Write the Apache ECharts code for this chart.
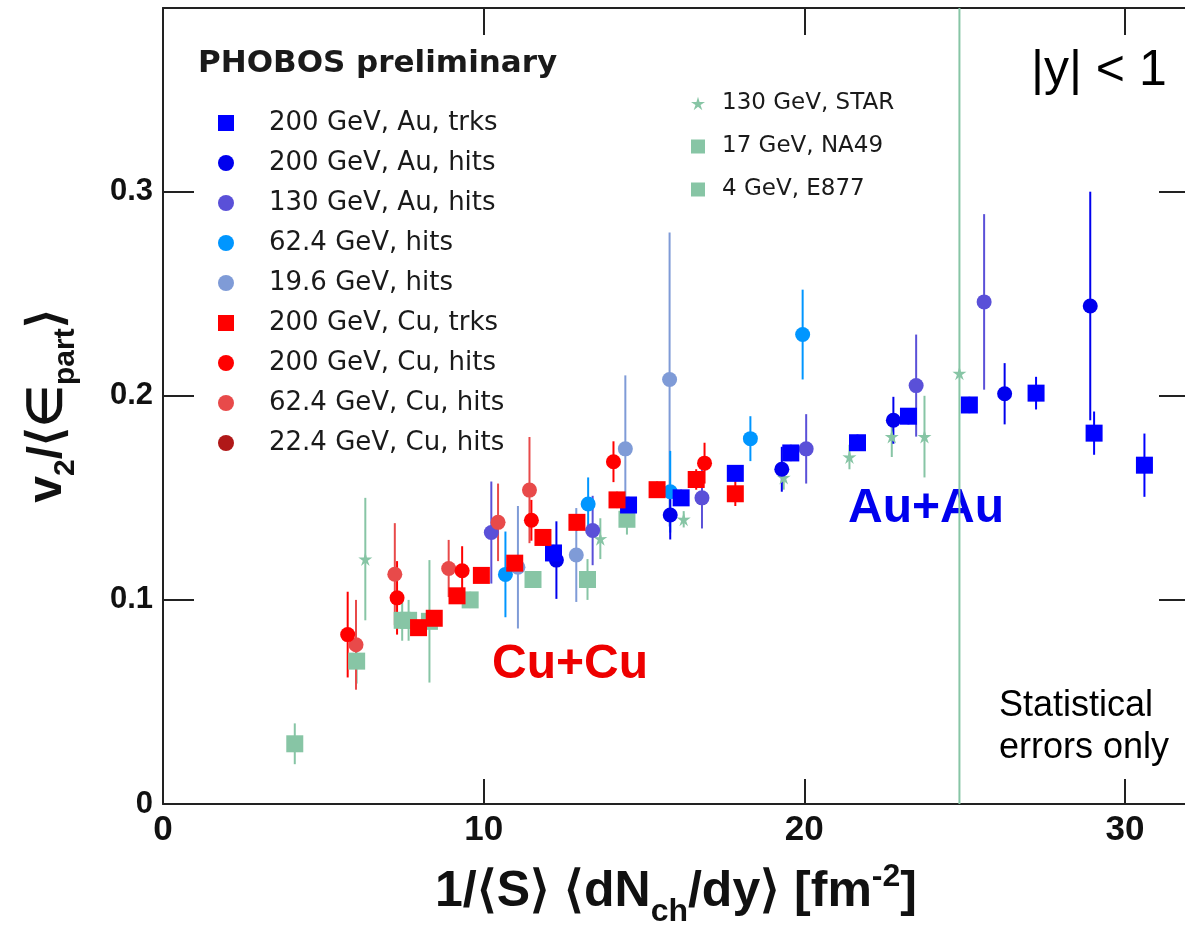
<!DOCTYPE html>
<html><head><meta charset="utf-8">
<script src="https://cdn.jsdelivr.net/npm/echarts@6/dist/echarts.min.js"></script>
<style>html,body{margin:0;padding:0;background:#fff}#c{width:1185px;height:934px}</style>
</head><body><div id="c"></div>
<script>
// tick values
const xTicks = [0, 10, 20, 30];
const yTicks = [0, 0.1, 0.2, 0.3];
// each point: [x, y, statistical error]
const auTrks200 = [[12.18,0.123,0.004],[14.52,0.1465,0.004],[16.16,0.150,0.004],[17.85,0.162,0.004],[19.58,0.172,0.004],[21.66,0.177,0.004],[23.25,0.190,0.004],[25.15,0.1955,0.004],[27.23,0.2013,0.008],[29.04,0.1817,0.0106],[30.61,0.166,0.0155]];
const auHits200 = [[12.27,0.1195,0.019],[15.82,0.1416,0.012],[19.30,0.164,0.011],[22.78,0.188,0.0115],[26.25,0.201,0.015],[28.92,0.244,0.056]];
const auHits130 = [[10.24,0.133,0.025],[13.40,0.134,0.017],[16.81,0.150,0.015],[20.06,0.174,0.017],[23.49,0.205,0.025],[25.61,0.246,0.043]];
const auHits62 = [[10.68,0.1125,0.021],[13.26,0.147,0.013],[15.82,0.153,0.02],[18.32,0.179,0.011],[19.95,0.230,0.022]];
const auHits19 = [[11.07,0.116,0.03],[12.89,0.122,0.023],[14.42,0.174,0.036],[15.80,0.208,0.072]];
const cuTrks200 = [[7.97,0.0864,0.003],[8.46,0.091,0.003],[9.17,0.102,0.003],[9.93,0.112,0.003],[10.97,0.118,0.004],[11.85,0.1306,0.004],[12.91,0.138,0.004],[14.16,0.149,0.004],[15.41,0.154,0.004],[16.63,0.159,0.005],[17.85,0.152,0.006]];
const cuHits200 = [[5.76,0.083,0.021],[7.30,0.101,0.018],[9.33,0.1143,0.012],[11.49,0.139,0.01],[14.05,0.1677,0.01],[16.89,0.167,0.01]];
const cuHits62 = [[6.02,0.078,0.022],[7.23,0.1126,0.025],[8.91,0.1154,0.014],[10.45,0.138,0.019],[11.43,0.1538,0.026]];
const cuHits22 = [];
const star130 = [[6.31,0.120,0.03],[13.64,0.130,0.01],[16.24,0.1395,0.004],[19.36,0.160,0.006],[21.41,0.170,0.006],[22.73,0.180,0.01],[23.75,0.180,0.02],[24.84,0.211,0.5]];
const na49 = [[6.04,0.070,0.011],[7.46,0.090,0.01],[7.66,0.090,0.01],[8.31,0.0895,0.03],[9.58,0.100,0.004],[11.54,0.110,0.004],[13.24,0.110,0.01],[14.47,0.1395,0.0075]];
const e877 = [[4.11,0.0295,0.01]];

const legend1 = ['200 GeV, Au, trks','200 GeV, Au, hits','130 GeV, Au, hits','62.4 GeV, hits','19.6 GeV, hits','200 GeV, Cu, trks','200 GeV, Cu, hits','62.4 GeV, Cu, hits','22.4 GeV, Cu, hits'];
const legend2 = ['130 GeV, STAR','17 GeV, NA49','4 GeV, E877'];

const GREEN = '#87c5a5';
const starPath = 'path://M50 0 L60.58 35.44 L97.55 34.55 L67.12 55.56 L79.39 90.45 L50 68 L20.61 90.45 L32.88 55.56 L2.45 34.55 L39.42 35.44 Z';

const sets = [
  {name: legend2[2], data: e877, color: GREEN, symbol: 'rect', size: 17},
  {name: legend2[1], data: na49, color: GREEN, symbol: 'rect', size: 17},
  {name: legend2[0], data: star130, color: GREEN, symbol: starPath, size: 14},
  {name: legend1[4], data: auHits19, color: '#7f9bd7', symbol: 'circle', size: 15},
  {name: legend1[3], data: auHits62, color: '#0096ff', symbol: 'circle', size: 15},
  {name: legend1[2], data: auHits130, color: '#5a50d8', symbol: 'circle', size: 15},
  {name: legend1[1], data: auHits200, color: '#0000ee', symbol: 'circle', size: 15},
  {name: legend1[0], data: auTrks200, color: '#0000ff', symbol: 'rect', size: 17},
  {name: legend1[8], data: cuHits22, color: '#b01818', symbol: 'circle', size: 15},
  {name: legend1[7], data: cuHits62, color: '#e84a4a', symbol: 'circle', size: 15},
  {name: legend1[6], data: cuHits200, color: '#ff0000', symbol: 'circle', size: 15},
  {name: legend1[5], data: cuTrks200, color: '#ff0000', symbol: 'rect', size: 17}
];

const series = [];
sets.forEach(function (s) {
  series.push({
    type: 'custom', name: s.name + ' (err)', data: s.data, clip: true, silent: true, z: 2,
    encode: {x: 0, y: 1},
    renderItem: function (params, api) {
      const x = api.value(0), y = api.value(1), e = api.value(2);
      const p1 = api.coord([x, y - e]), p2 = api.coord([x, y + e]);
      return {type: 'line', shape: {x1: p1[0], y1: p1[1], x2: p2[0], y2: p2[1]},
        style: {stroke: s.color, lineWidth: 2}};
    }
  });
  series.push({
    type: 'scatter', name: s.name, data: s.data.map(function (d) { return [d[0], d[1]]; }),
    symbol: s.symbol, symbolSize: s.size, z: 3, silent: true,
    itemStyle: {color: s.color, opacity: 1}
  });
});

const AX = '#222';
const labelFont = {fontFamily: 'Liberation Sans', fontWeight: 'bold', color: '#111'};

const option = {
  backgroundColor: '#fff',
  animation: false,
  grid: {left: 163, right: -4, top: 8, bottom: 130, containLabel: false, outerBoundsMode: 'none'},
  title: {text: 'PHOBOS preliminary', left: 193, top: 43,
    textStyle: {fontFamily: 'DejaVu Sans', fontWeight: 'bold', fontSize: 31, color: '#1a1a1a'}},
  legend: [{
    data: legend1, orient: 'vertical', left: 213, top: 105, itemWidth: 16, itemHeight: 16, itemGap: 14,
    selectedMode: false,
    textStyle: {fontFamily: 'DejaVu Sans', fontSize: 26, lineHeight: 26, color: '#1a1a1a', padding: [0, 0, 0, 30]}
  }, {
    data: legend2, orient: 'vertical', left: 686, top: 87, itemWidth: 14, itemHeight: 14, itemGap: 20,
    selectedMode: false,
    textStyle: {fontFamily: 'DejaVu Sans', fontSize: 23, lineHeight: 23, color: '#1a1a1a', padding: [0, 0, 0, 12]}
  }],
  xAxis: [{
    type: 'value', min: 0, max: 32, interval: 10, position: 'bottom',
    axisLine: {show: true, onZero: false, lineStyle: {color: AX, width: 2}},
    axisTick: {show: true, inside: true, length: 25, lineStyle: {color: AX, width: 2}},
    axisLabel: Object.assign({fontSize: 35, margin: 9, showMaxLabel: false,
      formatter: function (v) { return xTicks.indexOf(v) >= 0 ? String(v) : ''; }}, labelFont),
    splitLine: {show: false},
    name: '{a|1/⟨S⟩ ⟨dN}{s|ch}{a|/dy⟩ [fm}{p|-2}{a|]}',
    nameLocation: 'middle', nameGap: 52, nameMoveOverlap: false,
    nameTextStyle: {rich: {
      a: {fontFamily: 'Liberation Sans', fontWeight: 'bold', fontSize: 50, color: '#111'},
      s: {fontFamily: 'Liberation Sans', fontWeight: 'bold', fontSize: 32, color: '#111', padding: [40, 0, 0, 0]},
      p: {fontFamily: 'Liberation Sans', fontWeight: 'bold', fontSize: 32, color: '#111', padding: [0, 0, 30, 0]}
    }}
  }, {
    type: 'value', min: 0, max: 32, interval: 10, position: 'top',
    axisLine: {show: true, onZero: false, lineStyle: {color: AX, width: 2}},
    axisTick: {show: true, inside: true, length: 27, lineStyle: {color: AX, width: 2}},
    axisLabel: {show: false}, splitLine: {show: false}
  }],
  yAxis: [{
    type: 'value', min: 0, max: 0.39, interval: 0.1, position: 'left',
    axisLine: {show: true, onZero: false, lineStyle: {color: AX, width: 2}},
    axisTick: {show: true, inside: true, length: 31, lineStyle: {color: AX, width: 2}},
    axisLabel: Object.assign({fontSize: 31, margin: 10, showMaxLabel: false,
      formatter: function (v) {
        const r = Math.round(v * 10) / 10;
        if (Math.abs(r - v) > 1e-9 || yTicks.indexOf(r) < 0) return '';
        return r === 0 ? '0' : r.toFixed(1);
      }}, labelFont),
    splitLine: {show: false},
    name: '{a|v}{s|2}{a|/⟨∈}{s|part}{a|⟩}',
    nameLocation: 'middle', nameGap: 82, nameRotate: 90, nameMoveOverlap: false,
    nameTextStyle: {rich: {
      a: {fontFamily: 'Liberation Sans', fontWeight: 'bold', fontSize: 48, color: '#111'},
      s: {fontFamily: 'Liberation Sans', fontWeight: 'bold', fontSize: 30, color: '#111', padding: [36, 0, 0, 0]}
    }}
  }, {
    type: 'value', min: 0, max: 0.39, interval: 0.1, position: 'right',
    axisLine: {show: true, onZero: false, lineStyle: {color: AX, width: 2}},
    axisTick: {show: true, inside: true, length: 30, lineStyle: {color: AX, width: 2}},
    axisLabel: {show: false}, splitLine: {show: false}
  }],
  graphic: [
    {type: 'text', left: 1031, top: 46, style: {text: '|y| < 1', fontFamily: 'Liberation Sans', fontSize: 50, fill: '#000'}},
    {type: 'text', left: 848, top: 485, style: {text: 'Au+Au', fontFamily: 'Liberation Sans', fontWeight: 'bold', fontSize: 48, fill: '#0000ee'}},
    {type: 'text', left: 492, top: 641, style: {text: 'Cu+Cu', fontFamily: 'Liberation Sans', fontWeight: 'bold', fontSize: 48, fill: '#ee0000'}},
    {type: 'text', left: 999, top: 685, style: {text: 'Statistical\nerrors only', fontFamily: 'Liberation Sans', fontSize: 36, lineHeight: 42, fill: '#000'}}
  ],
  series: series
};

const chart = echarts.init(document.getElementById('c'), null, {renderer: 'canvas'});
chart.setOption(option);
</script>
</body></html>
